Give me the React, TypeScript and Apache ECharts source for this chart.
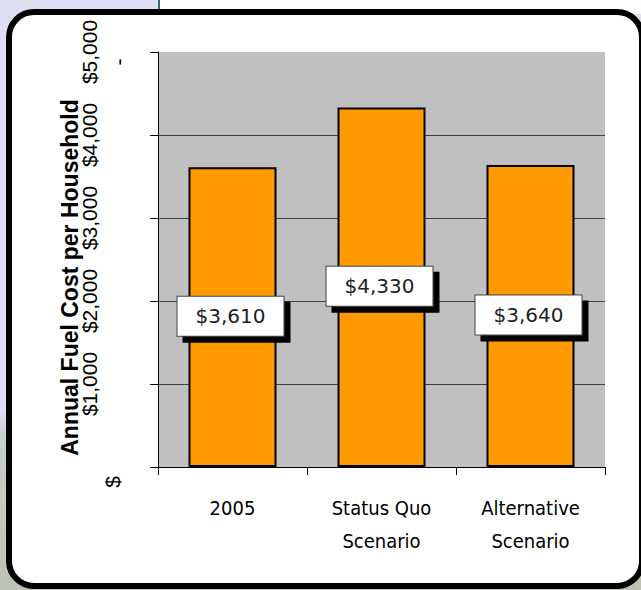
import React, { useEffect, useRef } from "react";
import * as echarts from "echarts";

const categories = ["2005", "Status Quo\nScenario", "Alternative\nScenario"];
const costs = [3610, 4330, 3640];
const yTicks = [0, 1000, 2000, 3000, 4000, 5000];
const yTitle = "Annual Fuel Cost per Household";

const fmt = (v: number) => "$" + v.toLocaleString("en-US");
const LABEL_FONT = "Liberation Sans, Arial";

export default function App() {
  const ref = useRef<HTMLDivElement>(null);

  useEffect(() => {
    document.body.style.margin = "0";
    if (!ref.current) return;
    const chart = echarts.init(ref.current, null, { renderer: "svg" });
    const yMin = yTicks[0];
    const yMax = yTicks[yTicks.length - 1];
    const extraAxis = (margin: number, formatter: (v: number) => string, rich: any) => ({
      type: "value",
      position: "left",
      min: yMin,
      max: yMax,
      interval: 1000,
      axisLine: { show: false },
      axisTick: { show: false },
      splitLine: { show: false },
      axisLabel: {
        rotate: 90,
        margin,
        color: "#000",
        fontFamily: LABEL_FONT,
        fontSize: 21,
        formatter,
        rich,
      },
    });
    chart.setOption({
      animation: false,
      backgroundColor: "transparent",
      grid: {
        show: true,
        left: 158,
        right: 36,
        top: 52,
        bottom: 123,
        backgroundColor: "#c0c0c0",
        borderWidth: 0,
      },
      xAxis: {
        type: "category",
        data: categories,
        axisLine: { show: true, lineStyle: { color: "#000", width: 1 } },
        axisTick: { show: true, length: 8, alignWithLabel: false, lineStyle: { color: "#000" } },
        axisLabel: {
          color: "#000",
          fontFamily: "DejaVu Sans Condensed, DejaVu Sans",
          fontSize: 20,
          lineHeight: 33,
          margin: 24,
        },
      },
      yAxis: [
        {
          type: "value",
          min: yMin,
          max: yMax,
          interval: 1000,
          name: yTitle,
          nameLocation: "middle",
          nameRotate: 90,
          nameGap: 77,
          nameMoveOverlap: false,
          nameTextStyle: {
            color: "#000",
            fontFamily: LABEL_FONT,
            fontWeight: "bold",
            fontSize: 23,
            padding: [0, 36, 0, 0],
          },
          axisLine: { show: true, lineStyle: { color: "#000", width: 1 } },
          axisTick: { show: true, length: 8, lineStyle: { color: "#000" } },
          splitLine: {
            show: true,
            lineStyle: {
              color: ["#000", "#404040", "#404040", "#404040", "#404040", "#c0c0c0"],
              width: 1,
            },
          },
          axisLabel: {
            rotate: 90,
            margin: 58,
            color: "#000",
            fontFamily: LABEL_FONT,
            fontSize: 21,
            formatter: (v: number) => (v === 0 ? "" : fmt(v)),
          },
        },
        extraAxis(35, (v: number) => (v === 0 ? "{z|$}" : ""), {
          z: { fontSize: 21, color: "#000", fontFamily: LABEL_FONT, padding: [0, 30, 0, 0] },
        }),
        extraAxis(29, (v: number) => (v === yMax ? "{d|-}" : ""), {
          d: { fontSize: 21, color: "#000", fontFamily: LABEL_FONT, padding: [0, 20, 0, 0] },
        }),
      ],
      series: [
        {
          type: "bar",
          data: costs,
          yAxisIndex: 0,
          barWidth: 88,
          itemStyle: { color: "#ff9900", borderColor: "#000", borderWidth: 2 },
          label: {
            show: true,
            position: "inside",
            offset: [-2, -1],
            formatter: (p: any) => fmt(p.value),
            color: "#222",
            fontFamily: "DejaVu Sans",
            fontSize: 20,
            lineHeight: 23,
            backgroundColor: "#fff",
            borderColor: "#444",
            borderWidth: 1,
            padding: [8, 18],
            shadowColor: "#000",
            shadowBlur: 0,
            shadowOffsetX: 6,
            shadowOffsetY: 6,
          },
        },
      ],
    });
    return () => chart.dispose();
  }, []);

  return (
    <div
      style={{
        position: "relative",
        width: 641,
        height: 590,
        overflow: "hidden",
        background: "linear-gradient(to bottom, #dedff3 0px, #dedff3 410px, #c9cfcb 435px, #bcc3b1 590px)",
      }}
    >
      <div
        style={{
          position: "absolute",
          left: 158,
          top: 0,
          width: 483,
          height: 14,
          background: "#fff",
          borderLeft: "2px solid #2f6f6a",
        }}
      />
      <div
        style={{
          position: "absolute",
          left: 6,
          top: 9,
          width: 639,
          height: 580,
          boxSizing: "border-box",
          border: "6px solid #000",
          borderRadius: 28,
          background: "#fff",
        }}
      />
      <div ref={ref} style={{ position: "absolute", left: 0, top: 0, width: 641, height: 590 }} />
    </div>
  );
}
